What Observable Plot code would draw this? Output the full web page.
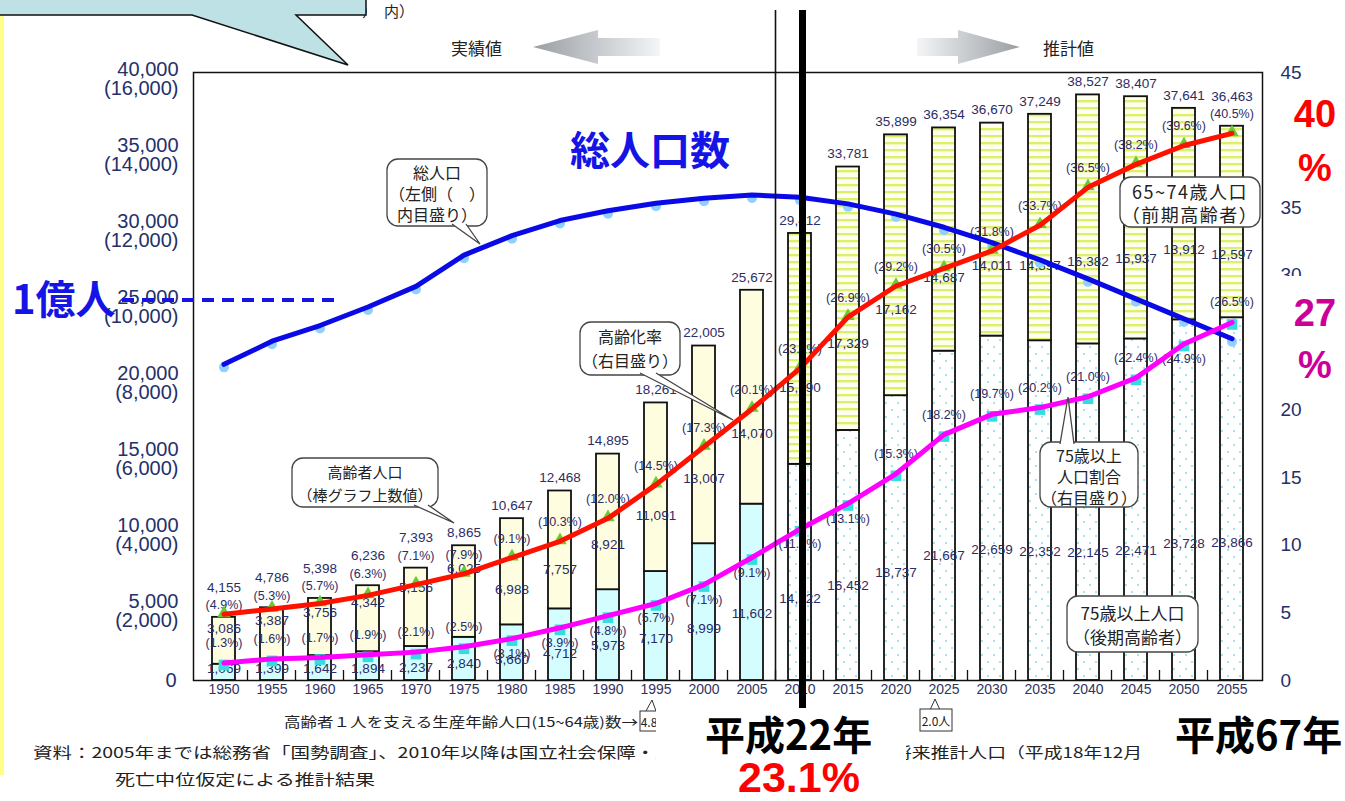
<!DOCTYPE html>
<html lang="ja"><head><meta charset="utf-8">
<script src="https://cdn.jsdelivr.net/npm/d3@7"></script>
<script src="https://cdn.jsdelivr.net/npm/@observablehq/plot@0.6"></script>
<style>
html,body{margin:0;padding:0;background:#fff;}
#chart{position:relative;width:1345px;height:801px;overflow:hidden;}
#chart svg{display:block;}
</style></head><body>
<svg width="0" height="0" style="position:absolute" aria-hidden="true">
 <defs>
  <pattern id="stripe" patternUnits="userSpaceOnUse" width="10" height="7">
   <rect width="10" height="7" fill="#fffff0"/>
   <rect y="2" width="10" height="2.4" fill="#dcf06e"/>
  </pattern>
  <pattern id="dots" patternUnits="userSpaceOnUse" width="12" height="14">
   <rect width="12" height="14" fill="#ffffff"/>
   <rect x="3" y="3" width="2" height="2" fill="#a6e4ee"/>
   <rect x="9" y="10" width="2" height="2" fill="#a6e4ee"/>
  </pattern>
  <linearGradient id="gradL" gradientUnits="userSpaceOnUse" x1="533" x2="660" y1="0" y2="0">
   <stop offset="0" stop-color="#9a9ea3"/><stop offset="1" stop-color="#f3f5f7"/>
  </linearGradient>
  <linearGradient id="gradR" gradientUnits="userSpaceOnUse" x1="917" x2="1020" y1="0" y2="0">
   <stop offset="0" stop-color="#f3f5f7"/><stop offset="1" stop-color="#9a9ea3"/>
  </linearGradient>
 </defs>
</svg>
<div id="chart"></div>
<script>
// ---- data (千人 / %, 総人口は万人) ----
const years = [1950,1955,1960,1965,1970,1975,1980,1985,1990,1995,2000,2005,2010,2015,2020,2025,2030,2035,2040,2045,2050,2055];
const elderly65 = [4155,4786,5398,6236,7393,8865,10647,12468,14895,18261,22005,25672,29412,33781,35899,36354,36670,37249,38527,38407,37641,36463];
const elderly75 = [1069,1399,1642,1894,2237,2840,3660,4712,5973,7170,8999,11602,14222,16452,18737,21667,22659,22352,22145,22471,23728,23866];
const elderly6574 = [3086,3387,3756,4342,5156,6025,6988,7757,8921,11091,13007,14070,15190,17329,17162,14687,14011,14897,16382,15937,13912,12597];
const agingRate = [4.9,5.3,5.7,6.3,7.1,7.9,9.1,10.3,12.0,14.5,17.3,20.1,23.1,26.9,29.2,30.5,31.8,33.7,36.5,38.2,39.6,40.5];
const rate75 = [1.3,1.6,1.7,1.9,2.1,2.5,3.1,3.9,4.8,5.7,7.1,9.1,11.2,13.1,15.3,18.2,19.7,20.2,21.0,22.4,24.9,26.5];
const totalPop = [8320,8928,9342,9828,10372,11194,11706,12105,12361,12557,12693,12777,12718,12543,12274,11927,11522,11068,10570,10044,9515,8993];
const firstProjection = 2010;
const leftTicks = [0,5000,10000,15000,20000,25000,30000,35000,40000];
const leftTicksTotal = [0,2000,4000,6000,8000,10000,12000,14000,16000];
const rightTicks = [0,5,10,15,20,25,30,35,40,45];

const K = 40000 / 45;      // % (right axis) -> left scale
const P = 40000 / 16000;   // 万人 -> 千人 scale
const fmt = d3.format(",");
const pct = v => `(${v.toFixed(1)}%)`;

const rows = years.map((year, i) => ({
  year, total: elderly65[i], u75: elderly75[i], m: elderly6574[i],
  rate: agingRate[i], r75: rate75[i], pop: totalPop[i]
}));
const past = rows.filter(d => d.year < firstProjection);
const future = rows.filter(d => d.year >= firstProjection);
const stackedTop = new Set([1950,1955,1960,1965,1970,2055]);
const r75Below = new Set([1980,1985,1990,1995,2000,2005,2010,2015,2050]);

const NUM = "Liberation Sans, Arial, sans-serif";
const JP = "'Noto Sans CJK JP', 'Noto Sans', sans-serif";
const numColor = "#2c2c66";
const axisColor = "#24306a";
const barStroke = {stroke: "#111", strokeWidth: 1.8};

const chart = Plot.plot({
  width: 1345, height: 801,
  marginTop: 72, marginBottom: 121, marginLeft: 193, marginRight: 83,
  style: {background: "transparent", fontFamily: NUM},
  x: {type: "band", domain: years, paddingInner: 0.515, paddingOuter: 0.3, axis: null},
  y: {domain: [0, 40000], axis: null},
  marks: [
    Plot.barY(past, {x: "year", y1: 0, y2: "u75", fill: "#d4fdff", ...barStroke}),
    Plot.barY(past, {x: "year", y1: "u75", y2: "total", fill: "#fffde0", ...barStroke}),
    Plot.barY(future, {x: "year", y1: 0, y2: "u75", fill: "url(#dots)", ...barStroke}),
    Plot.barY(future, {x: "year", y1: "u75", y2: "total", fill: "url(#stripe)", ...barStroke}),
    Plot.frame({stroke: "#111", strokeWidth: 1.5}),
    // axes (text through scales)
    Plot.text(leftTicks.map((v, i) => ({v, t: leftTicksTotal[i]})).filter(d => d.v > 0), {
      y: "v", text: d => `${fmt(d.v)}\n(${fmt(d.t)})`, frameAnchor: "left", dx: -15, dy: 7,
      textAnchor: "end", fontSize: 20, lineHeight: 0.95, fill: axisColor}),
    Plot.text([0], {y: d => d, text: () => "0", frameAnchor: "left", dx: -17, textAnchor: "end", fontSize: 20, fill: axisColor}),
    Plot.text(rightTicks, {y: d => d * K, text: d => String(d), frameAnchor: "right", dx: 18, textAnchor: "start", fontSize: 19, fill: axisColor}),
    Plot.text(years, {x: d => d, text: d => String(d), frameAnchor: "bottom", dy: 13, fontSize: 14, fill: "#333360"}),
    // data labels
    Plot.text(rows.filter(d => stackedTop.has(d.year)), {x: "year", y: "total", text: d => fmt(d.total), dy: -30, fontSize: 13.5, fill: numColor}),
    Plot.text(rows.filter(d => !stackedTop.has(d.year)), {x: "year", y: "total", text: d => fmt(d.total), dy: -13, fontSize: 13.5, fill: numColor}),
    Plot.text(rows.filter(d => stackedTop.has(d.year)), {x: "year", y: "total", text: d => pct(d.rate), dy: -12, fontSize: 12.5, fill: numColor}),
    Plot.text(rows.filter(d => !stackedTop.has(d.year)), {x: "year", y: d => d.rate * K, text: d => pct(d.rate), dy: -19, fontSize: 12.5, fill: numColor}),
    Plot.text(rows, {x: "year", y: d => d.u75 + d.m * (d.year < 1980 ? 0.75 : 0.33), text: d => fmt(d.m), fontSize: 13.5, fill: numColor}),
    Plot.text(rows, {x: "year", y: d => Math.max(d.u75 * 0.38, 800), text: d => fmt(d.u75), fontSize: 13.5, fill: numColor}),
    Plot.text(rows.filter(d => r75Below.has(d.year)), {x: "year", y: d => d.r75 * K, text: d => pct(d.r75), dy: 15, fontSize: 12.5, fill: numColor}),
    Plot.text(rows.filter(d => !r75Below.has(d.year)), {x: "year", y: d => d.r75 * K, text: d => pct(d.r75), dy: -20, fontSize: 12.5, fill: numColor}),
    // markers
    Plot.dot(rows, {x: "year", y: d => d.pop * P, r: 5, fill: "#8fd0ff", dy: 3}),
    Plot.dot(rows, {x: "year", y: d => d.rate * K, symbol: "triangle", r: 5, fill: "#66cc33", dy: -1}),
    Plot.dot(rows, {x: "year", y: d => d.r75 * K, symbol: "square", r: 6, fill: "#33dddd", dy: 2}),
    // lines
    Plot.line(rows, {x: "year", y: d => d.pop * P, stroke: "#0a0ae6", strokeWidth: 5}),
    Plot.line(rows, {x: "year", y: d => d.rate * K, stroke: "#ff1100", strokeWidth: 5}),
    Plot.line(rows, {x: "year", y: d => d.r75 * K, stroke: "#ff00ff", strokeWidth: 5})
  ]
});
document.getElementById("chart").appendChild(chart);

// ---- annotations ----
const svg = d3.select(chart);
const xs = chart.scale("x"), ys = chart.scale("y");
const bw = xs.bandwidth;
const step = xs.apply(years[1]) - xs.apply(years[0]);
const y0 = ys.apply(0);
const ov = svg.append("g");

function txt(g, x, y, s, o = {}) {
  const t = g.append("text").attr("x", x).attr("y", y)
    .attr("dominant-baseline", "central")
    .attr("text-anchor", o.anchor || "start")
    .attr("font-family", o.font || JP)
    .attr("font-size", o.size || 15)
    .attr("font-weight", o.weight || 400)
    .attr("fill", o.fill || "#222").text(s);
  if (o.len) t.attr("textLength", o.len).attr("lengthAdjust", "spacingAndGlyphs");
  if (o.ls) t.attr("letter-spacing", o.ls);
  return t;
}

// small ticks between bars
years.slice(0, -1).forEach(yr => {
  const gx = xs.apply(yr) + bw + (step - bw) / 2;
  ov.append("line").attr("x1", gx).attr("x2", gx).attr("y1", y0).attr("y2", y0 - 10)
    .attr("stroke", "#111").attr("stroke-width", 1.3);
});
// thin divider between actual / projection
const xDiv = xs.apply(firstProjection) - (step - bw) / 2;
ov.append("line").attr("x1", xDiv).attr("x2", xDiv).attr("y1", 10).attr("y2", y0)
  .attr("stroke", "#111").attr("stroke-width", 1.6);

// left yellow strip
ov.append("rect").attr("x", 0).attr("y", 15).attr("width", 4).attr("height", 760).attr("fill", "#ffff88");

// top-left callout (cut)
txt(ov, 362, 10, "）", {size: 15});
txt(ov, 384, 10, "内）", {size: 15});
ov.append("path").attr("d", "M-2,-2 H366 V15 H296 L348,65 L192,15 H-2 Z")
  .attr("fill", "#bde1e4").attr("stroke", "#111").attr("stroke-width", 1.5);

// arrows
ov.append("path").attr("d", "M533,47 L598,30 L598,38 L660,38 L660,56 L598,56 L598,64 Z").attr("fill", "url(#gradL)");
ov.append("path").attr("d", "M917,38 L958,38 L958,30 L1020,47 L958,64 L958,56 L917,56 Z").attr("fill", "url(#gradR)");
txt(ov, 451, 47, "実績値", {size: 17});
txt(ov, 1043, 47, "推計値", {size: 17});

// dashed 1億人 line at 10,000万人
const y1oku = ys.apply(10000 * P);
ov.append("line").attr("x1", 122).attr("x2", 340).attr("y1", y1oku).attr("y2", y1oku)
  .attr("stroke", "#1414e6").attr("stroke-width", 4).attr("stroke-dasharray", "12 8");

// speech-bubble callouts
function callout(x, y, w, h, lines, o = {}) {
  const g = ov.append("g");
  g.append("rect").attr("x", x).attr("y", y).attr("width", w).attr("height", h).attr("rx", 11)
    .attr("fill", "#fff").attr("stroke", "#444").attr("stroke-width", 1.3);
  if (o.tail) {
    const [a, b, c] = o.tail;
    g.append("path").attr("d", `M${a[0]},${a[1]} L${b[0]},${b[1]} L${c[0]},${c[1]}`)
      .attr("fill", "#fff").attr("stroke", "#444").attr("stroke-width", 1.3);
  }
  lines.forEach((s, i) => txt(g, x + w / 2, o.ys[i], s, {anchor: "middle", size: o.size || 15, ls: o.ls}));
}
callout(387, 159, 100, 67, ["総人口", "（左側（　）", "内目盛り）"], {ys: [172, 193, 214], tail: [[452, 224], [480, 244], [466, 224]], size: 16});
callout(292, 458, 146, 49, ["高齢者人口", "（棒グラフ上数値）"], {ys: [471, 494], tail: [[414, 505], [454, 523], [428, 505]]});
callout(580, 322, 100, 53, ["高齢化率", "（右目盛り）"], {ys: [336, 360], tail: [[640, 373], [733, 420], [656, 373]], size: 16});
callout(1120, 177, 140, 50, ["65~74歳人口", "（前期高齢者）"], {ys: [191, 214], size: 18, ls: 1.5});
callout(1040, 442, 98, 65, ["75歳以上", "人口割合", "（右目盛り）"], {ys: [455, 476, 497], tail: [[1060, 444], [1068, 397], [1074, 444]], size: 16});
callout(1067, 596, 131, 56, ["75歳以上人口", "（後期高齢者）"], {ys: [612, 636], size: 17});

// bottom notes
txt(ov, 284, 721, "高齢者１人を支える生産年齢人口(15~64歳)数→", {size: 13.5, len: 354});
ov.append("path").attr("d", "M646,711 L652,700 L656,711").attr("fill", "#fff").attr("stroke", "#333");
ov.append("rect").attr("x", 640).attr("y", 711).attr("width", 30).attr("height", 20).attr("fill", "#fff").attr("stroke", "#333");
txt(ov, 655, 721, "4.8人", {size: 12, anchor: "middle"});
ov.append("path").attr("d", "M930,710 L935,699 L940,710").attr("fill", "#fff").attr("stroke", "#333");
ov.append("rect").attr("x", 920).attr("y", 709).attr("width", 32).attr("height", 22).attr("fill", "#fff").attr("stroke", "#333");
txt(ov, 936, 720, "2.0人", {size: 12, anchor: "middle"});
txt(ov, 33, 751, "資料：2005年までは総務省「国勢調査」、2010年以降は国立社会保障・人口問題", {size: 15, len: 700});
txt(ov, 893, 751, "将来推計人口（平成18年12月", {size: 15, len: 249});
txt(ov, 115, 778, "死亡中位仮定による推計結果", {size: 15, len: 260});

// white panels behind big captions
ov.append("rect").attr("x", 656).attr("y", 697).attr("width", 250).attr("height", 104).attr("fill", "#fff");
ov.append("rect").attr("x", 1150).attr("y", 697).attr("width", 195).attr("height", 64).attr("fill", "#fff");
ov.append("rect").attr("x", 1276).attr("y", 84).attr("width", 69).attr("height", 106).attr("fill", "#fff");
ov.append("rect").attr("x", 1276).attr("y", 276).attr("width", 69).attr("height", 112).attr("fill", "#fff");

// big captions
txt(ov, 570, 148, "総人口数", {size: 40, weight: 700, fill: "#1414e6"});
txt(ov, 12, 297, "1億人", {size: 40, weight: 700, fill: "#1414e6"});
txt(ov, 1315, 114, "40", {size: 38, weight: 700, fill: "#ff0000", font: NUM, anchor: "middle"});
txt(ov, 1315, 168, "%", {size: 38, weight: 700, fill: "#ff0000", font: NUM, anchor: "middle"});
txt(ov, 1315, 313, "27", {size: 38, weight: 700, fill: "#cc0099", font: NUM, anchor: "middle"});
txt(ov, 1315, 365, "%", {size: 38, weight: 700, fill: "#cc0099", font: NUM, anchor: "middle"});
txt(ov, 705, 733, "平成22年", {size: 40, weight: 700, fill: "#000"});
txt(ov, 738, 777, "23.1%", {size: 43, weight: 700, fill: "#ff0000", font: NUM});
txt(ov, 1175, 733, "平成67年", {size: 40, weight: 700, fill: "#000"});

// thick marker line at 2010
const xThick = xs.apply(firstProjection) + bw / 2 + 3;
ov.append("line").attr("x1", xThick).attr("x2", xThick).attr("y1", 10).attr("y2", 708)
  .attr("stroke", "#000").attr("stroke-width", 7);
</script>
</body></html>
